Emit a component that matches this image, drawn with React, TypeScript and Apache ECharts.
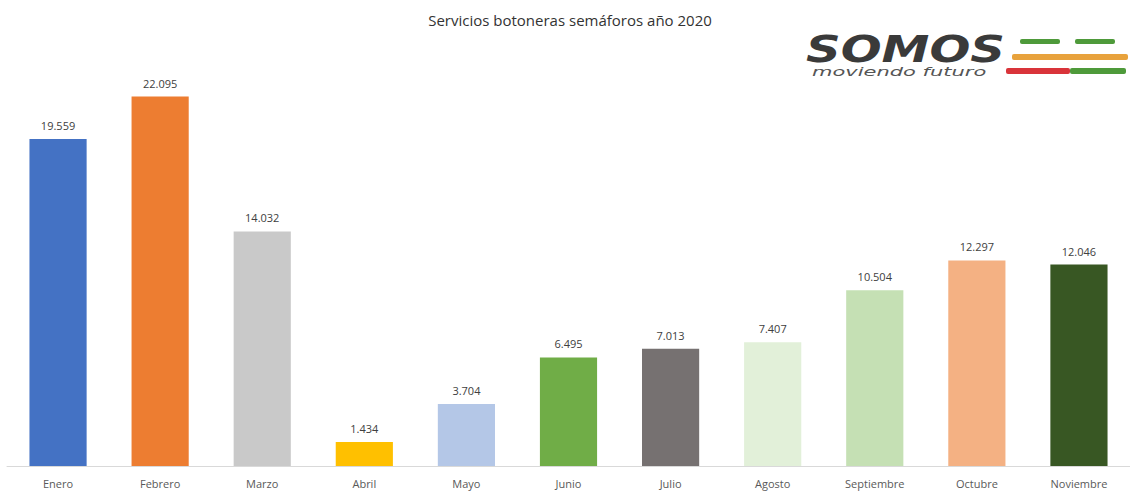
import React, { useEffect, useRef } from "react";
import * as echarts from "echarts";

const months = ["Enero", "Febrero", "Marzo", "Abril", "Mayo", "Junio", "Julio", "Agosto", "Septiembre", "Octubre", "Noviembre"];
const services = [19559, 22095, 14032, 1434, 3704, 6495, 7013, 7407, 10504, 12297, 12046];
const barColors = ["#4472C4", "#ED7D31", "#C9C9C9", "#FFC000", "#B4C7E7", "#70AD47", "#767171", "#E2F0D9", "#C5E0B4", "#F4B183", "#385723"];

const fmt = (v: number) => String(v).replace(/\B(?=(\d{3})+(?!\d))/g, ".");

export default function App() {
  const ref = useRef<HTMLDivElement>(null);
  useEffect(() => {
    document.body.style.margin = "0";
    const chart = echarts.init(ref.current!, null, { renderer: "svg" });
    chart.setOption({
      animation: false,
      backgroundColor: "#ffffff",
      title: {
        text: "Servicios botoneras semáforos año 2020",
        left: 565,
        top: 7,
        textAlign: "center",
        textStyle: { fontFamily: "Open Sans", fontSize: 15, fontWeight: "normal", color: "#333333" },
      },
      grid: { left: 7, right: 0, top: 48, bottom: 27 },
      xAxis: {
        type: "category",
        data: months,
        axisLine: { show: true, lineStyle: { color: "#D9D9D9" } },
        axisTick: { show: false },
        axisLabel: { color: "#595959", fontSize: 11, fontFamily: "Open Sans", margin: 12, interval: 0 },
      },
      yAxis: { type: "value", min: 0, max: 25000, show: false, splitLine: { show: false } },
      series: [
        {
          type: "bar",
          barWidth: "56%",
          data: services.map((v, i) => ({ value: v, itemStyle: { color: barColors[i] } })),
          label: {
            show: true,
            position: "top",
            distance: 8,
            color: "#404040",
            fontSize: 11,
            fontFamily: "Open Sans",
            formatter: (p: any) => fmt(p.value),
          },
        },
      ],
      graphic: [
        {
          type: "text",
          x: 806,
          y: 31,
          scaleX: 1.3,
          style: { text: "SOMOS", fontFamily: "DejaVu Sans", fontStyle: "italic", fontWeight: "bold", fontSize: 37, fill: "#3A3A3A" },
        },
        {
          type: "text",
          x: 812,
          y: 66,
          scaleX: 1.75,
          style: { text: "moviendo futuro", fontFamily: "DejaVu Sans", fontStyle: "italic", fontSize: 12, fill: "#555555" },
        },
        { type: "rect", shape: { x: 1020, y: 39, width: 40, height: 5, r: 2 }, style: { fill: "#4E9A3A" } },
        { type: "rect", shape: { x: 1075, y: 39, width: 40, height: 5, r: 2 }, style: { fill: "#4E9A3A" } },
        { type: "rect", shape: { x: 1012, y: 54, width: 116, height: 6, r: 2 }, style: { fill: "#E8A23C" } },
        { type: "rect", shape: { x: 1006, y: 68, width: 64, height: 6, r: 2 }, style: { fill: "#D9343A" } },
        { type: "rect", shape: { x: 1070, y: 68, width: 56, height: 6, r: 2 }, style: { fill: "#4E9A3A" } },
      ],
    });
    return () => chart.dispose();
  }, []);
  return <div ref={ref} style={{ width: 1130, height: 493, position: "absolute", left: 0, top: 0 }} />;
}
